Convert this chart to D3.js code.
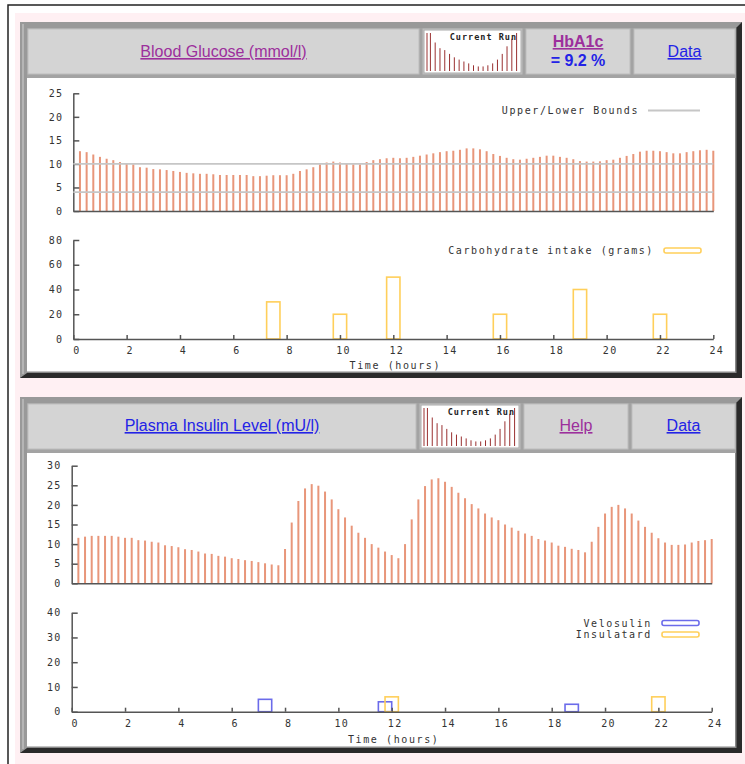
<!DOCTYPE html>
<html lang="en">
<head>
<meta charset="UTF-8">
<title>Blood glucose / plasma insulin</title>
<script src="https://cdn.jsdelivr.net/npm/d3@7"></script>
<style>
    body { margin: 0; background: #fff; }
    .axis path, .axis line { fill: none; stroke: #555; stroke-width: 1.5; }
    .axis text, .lbl {
        font-family: "DejaVu Sans Mono", monospace;
        font-size: 10px;
        fill: #333;
        letter-spacing: 1.3px;
    }
    .lbl { letter-spacing: 1.6px; }
    .hdr { font-family: "Liberation Sans", Arial, sans-serif; font-size: 16px; text-decoration: underline; }
</style>
</head>
<body>
<script>
	// quarter-hour slots, 0:15 .. 24:00
	var hours = d3.range(1, 97).map(function (k) { return k / 4; });
	var glucose = [12.7, 12.5, 12.0, 11.5, 11.1, 10.8, 10.4, 10.0, 9.9, 9.3,
		9.2, 8.9, 8.85, 8.7, 8.5, 8.3, 8.1, 8.0, 7.9, 7.9,
		7.8, 7.65, 7.65, 7.65, 7.65, 7.65, 7.4, 7.4, 7.5, 7.6,
		7.6, 7.6, 7.9, 8.5, 8.85, 9.3, 9.9, 10.3, 10.5, 10.3,
		10.1, 9.9, 9.9, 10.4, 10.8, 11.0, 11.2, 11.3, 11.2, 11.3,
		11.5, 11.75, 12.0, 12.25, 12.5, 12.7, 12.8, 13.0, 13.3, 13.3,
		13.1, 12.7, 12.1, 11.7, 11.3, 11.0, 10.9, 11.1, 11.3, 11.5,
		11.75, 11.75, 11.5, 11.3, 11.0, 10.6, 10.5, 10.5, 10.55, 10.8,
		10.9, 11.3, 11.7, 12.1, 12.6, 12.8, 12.8, 12.7, 12.5, 12.25,
		12.25, 12.5, 12.7, 12.9, 13.0, 12.8];
	var insulin = [11.6, 11.9, 12.1, 12.1, 12.1, 12.1, 11.9, 11.6, 11.6, 11.0,
		10.9, 10.6, 10.4, 9.7, 9.5, 9.2, 8.7, 8.5, 8.1, 7.6,
		7.5, 7.0, 6.8, 6.4, 6.2, 5.9, 5.7, 5.4, 5.1, 4.8,
		4.6, 8.75, 15.5, 21.0, 24.2, 25.3, 24.9, 23.4, 21.4, 18.9,
		16.8, 14.7, 12.9, 11.6, 10.0, 9.1, 8.1, 7.2, 6.4, 10.0,
		16.3, 21.4, 24.8, 26.5, 26.8, 25.9, 24.6, 23.1, 21.7, 20.2,
		19.1, 17.8, 16.8, 16.1, 15.0, 14.2, 13.4, 12.7, 12.1, 11.3,
		10.9, 10.4, 9.6, 9.3, 8.8, 8.5, 7.9, 10.6, 14.4, 17.8,
		19.5, 20.0, 19.1, 17.8, 16.0, 14.4, 12.9, 11.5, 10.4, 9.8,
		9.8, 9.9, 10.4, 10.8, 11.0, 11.3];
	var bounds = [4, 10];
	var carbTimes = [7.5, 10, 12, 16, 19, 22];
	var carbGrams = [30, 20, 50, 20, 40, 20];
	var veloTimes = [7.25, 11.75, 18.75];
	var veloUnits = [5, 4, 3];
	var insulTimes = [12, 22];
	var insulUnits = [6, 6];
	var hourTicks = [0, 2, 4, 6, 8, 10, 12, 14, 16, 18, 20, 22, 24];
	var thumbBars = [1.0, 0.75, 0.6, 0.55, 0.45, 0.36, 0.3, 0.25, 0.2, 0.15, 0.12, 0.12, 0.15, 0.2, 0.3, 0.45, 0.65, 0.85, 1.0];

	var barColor = "#e8967a";
	var yellow = "#ffcf5a";
	var blue = "#6b6bea";
	var linkBlue = "#2323e6";
	var linkPurple = "#9c2f9c";

	var width = 745, height = 764;
	var svg = d3.select("body").append("svg")
		.attr("width", width)
		.attr("height", height);

	// page background
	svg.append("rect").attr("x", 15).attr("y", 13).attr("width", 730).attr("height", 751).attr("fill", "#fff0f3");
	svg.append("path").attr("d", "M8,764V5H745").attr("fill", "none").attr("stroke", "#222").attr("stroke-width", 1.5);

	function panel(y0, y1, cells) {
		var x0 = 20, x1 = 742;
		var g = svg.append("g");
		g.append("rect").attr("x", x0).attr("y", y0).attr("width", x1 - x0).attr("height", y1 - y0).attr("fill", "#2a2a2a");
		g.append("path")
			.attr("d", "M" + x0 + "," + y0 + "H" + x1 + "L" + (x1 - 6) + "," + (y0 + 6) + "H" + (x0 + 7) +
				"V" + (y1 - 5) + "L" + x0 + "," + y1 + "Z")
			.attr("fill", "#999");
		g.append("rect").attr("x", x0 + 2).attr("y", y0 + 2).attr("width", 2).attr("height", y1 - y0 - 6).attr("fill", "#b5b5b5");
		g.append("rect").attr("x", x0 + 7).attr("y", y0 + 6).attr("width", x1 - x0 - 13).attr("height", y1 - y0 - 11).attr("fill", "#fff");
		g.append("rect").attr("x", x1 - 7).attr("y", y0 + 6).attr("width", 1.5).attr("height", y1 - y0 - 11).attr("fill", "#888");
		g.append("rect").attr("x", x0 + 7).attr("y", y1 - 6.5).attr("width", x1 - x0 - 13).attr("height", 1.5).attr("fill", "#888");
		// header strip
		g.append("rect").attr("x", x0 + 7).attr("y", y0 + 6).attr("width", x1 - x0 - 13).attr("height", 50).attr("fill", "#a3a3a3");
		cells.forEach(function (c) {
			g.append("rect").attr("x", c.x0).attr("y", y0 + 7).attr("width", c.x1 - c.x0).attr("height", 45)
				.attr("fill", "#d4d4d4").attr("stroke", "#bdbdbd").attr("stroke-width", 1);
			if (c.thumb) {
				thumb(g, c.x0 + 1, y0 + 8, c.x1 - c.x0 - 2, 43);
			}
			(c.lines || []).forEach(function (l) {
				g.append("text")
					.attr("class", "hdr")
					.attr("x", (c.x0 + c.x1) / 2)
					.attr("y", y0 + l.dy)
					.attr("text-anchor", "middle")
					.attr("fill", l.color)
					.style("font-weight", l.bold ? "bold" : "normal")
					.style("text-decoration", l.under === false ? "none" : "underline")
					.text(l.text);
			});
		});
	}

	function thumb(g, x, y, w, h) {
		g.append("rect").attr("x", x).attr("y", y).attr("width", w).attr("height", h).attr("fill", "#fff").attr("stroke", "#aaa");
		var tx = d3.scaleBand().domain(d3.range(thumbBars.length)).range([x + 4, x + w - 2]);
		var ty = d3.scaleLinear().domain([0, 1]).range([y + h - 2, y + 3]);
		g.append("line").attr("x1", x + 3).attr("x2", x + 3).attr("y1", y + 3).attr("y2", y + h - 2).attr("stroke", "#9a3030").attr("stroke-width", 1);
		g.selectAll(null).data(thumbBars).enter().append("line")
			.attr("x1", function (d, i) { return tx(i) + tx.bandwidth() / 2; })
			.attr("x2", function (d, i) { return tx(i) + tx.bandwidth() / 2; })
			.attr("y1", ty(0))
			.attr("y2", function (d) { return ty(d); })
			.attr("stroke", "#9a3030")
			.attr("stroke-width", 1);
		g.append("text").attr("x", x + w - 4).attr("y", y + 10).attr("text-anchor", "end")
			.style("font-family", "DejaVu Sans Mono, monospace").style("font-size", "8.5px").style("font-weight", "bold")
			.style("letter-spacing", "1px")
			.attr("fill", "#222").text("Current Run");
	}

	panel(22, 378, [
		{x0: 28, x1: 419, lines: [{text: "Blood Glucose (mmol/l)", color: linkPurple, dy: 35}]},
		{x0: 423, x1: 522, thumb: true},
		{x0: 526, x1: 630, lines: [{text: "HbA1c", color: linkPurple, dy: 25, bold: true},
			{text: "= 9.2 %", color: linkBlue, dy: 44, bold: true, under: false}]},
		{x0: 634, x1: 735, lines: [{text: "Data", color: linkBlue, dy: 35}]}
	]);
	panel(397, 753, [
		{x0: 28, x1: 416, lines: [{text: "Plasma Insulin Level (mU/l)", color: linkBlue, dy: 34}]},
		{x0: 420, x1: 520, thumb: true},
		{x0: 524, x1: 628, lines: [{text: "Help", color: linkPurple, dy: 34}]},
		{x0: 632, x1: 735, lines: [{text: "Data", color: linkBlue, dy: 34}]}
	]);

	function xScale(left) {
		return d3.scaleLinear().domain([0, 24]).range([left, left + 640]);
	}

	function yAxis(y, ticks) {
		return d3.axisLeft(y).tickValues(ticks).tickSizeInner(-6).tickSizeOuter(0).tickPadding(10);
	}

	function profile(left, top, bottom, yMax, ticks, values) {
		var x = xScale(left);
		var y = d3.scaleLinear().domain([0, yMax]).range([bottom, top]);
		svg.append("g").selectAll("rect")
			.data(values)
			.enter()
			.append("rect")
			.attr("x", function (d, i) { return x(hours[i]) - 1; })
			.attr("y", function (d) { return y(d); })
			.attr("width", 2)
			.attr("height", function (d) { return y(0) - y(d); })
			.attr("fill", barColor);
		svg.append("g").attr("class", "axis").attr("transform", "translate(0," + bottom + ")")
			.call(d3.axisBottom(x).tickValues([]).tickSizeOuter(0));
		svg.append("g").attr("class", "axis").attr("transform", "translate(" + left + ",0)")
			.call(yAxis(y, ticks));
		return {x: x, y: y};
	}

	function doses(left, top, bottom, yMax, ticks, sets, labelY) {
		var x = xScale(left);
		var y = d3.scaleLinear().domain([0, yMax]).range([bottom, top]);
		sets.forEach(function (s) {
			svg.append("g").selectAll("rect")
				.data(s.times)
				.enter()
				.append("rect")
				.attr("x", function (d) { return x(d - 0.25); })
				.attr("y", function (d, i) { return y(s.values[i]); })
				.attr("width", function (d) { return x(d + 0.25) - x(d - 0.25); })
				.attr("height", function (d, i) { return y(0) - y(s.values[i]); })
				.attr("fill", "none")
				.attr("stroke", s.color)
				.attr("stroke-width", 1.6);
		});
		svg.append("g").attr("class", "axis").attr("transform", "translate(0," + bottom + ")")
			.call(d3.axisBottom(x).tickValues(hourTicks).tickSizeInner(-4).tickSizeOuter(0).tickPadding(8))
			.selectAll("text").attr("dx", 3);
		svg.append("g").attr("class", "axis").attr("transform", "translate(" + left + ",0)")
			.call(yAxis(y, ticks));
		svg.append("text").attr("class", "lbl").attr("x", x(12) + 2).attr("y", labelY)
			.attr("text-anchor", "middle").text("Time (hours)");
	}

	function legend(textEnd, y, label, color, asLine) {
		svg.append("text").attr("class", "lbl").attr("x", textEnd).attr("y", y + 3.5)
			.attr("text-anchor", "end").text(label);
		if (asLine) {
			svg.append("line").attr("x1", textEnd + 9).attr("x2", textEnd + 61).attr("y1", y).attr("y2", y)
				.attr("stroke", color).attr("stroke-width", 2);
		} else {
			svg.append("rect").attr("x", textEnd + 10).attr("y", y - 2.5).attr("width", 37).attr("height", 5).attr("rx", 2)
				.attr("fill", "none").attr("stroke", color).attr("stroke-width", 1.6);
		}
	}

	// blood glucose
	var g1 = profile(73.3, 93.3, 211, 25, [0, 5, 10, 15, 20, 25], glucose);
	svg.append("g").selectAll("line")
		.data(bounds)
		.enter()
		.append("line")
		.attr("x1", g1.x(0))
		.attr("x2", g1.x(24))
		.attr("y1", function (d) { return g1.y(d); })
		.attr("y2", function (d) { return g1.y(d); })
		.attr("stroke", "#c6c6c6")
		.attr("stroke-width", 1.6);
	legend(639, 110.5, "Upper/Lower Bounds", "#c6c6c6", true);

	// carbohydrate intake
	doses(73.3, 240, 339, 80, [0, 20, 40, 60, 80],
		[{times: carbTimes, values: carbGrams, color: yellow}], 369);
	legend(654, 250.5, "Carbohydrate intake (grams)", yellow, false);

	// plasma insulin
	profile(71.7, 465.7, 583.3, 30, [0, 5, 10, 15, 20, 25, 30], insulin);

	// injections
	doses(71.7, 612.7, 711.7, 40, [0, 10, 20, 30, 40],
		[{times: veloTimes, values: veloUnits, color: blue},
			{times: insulTimes, values: insulUnits, color: yellow}], 743);
	legend(652, 623, "Velosulin", blue, false);
	legend(652, 634.5, "Insulatard", yellow, false);
</script>
</body>
</html>
